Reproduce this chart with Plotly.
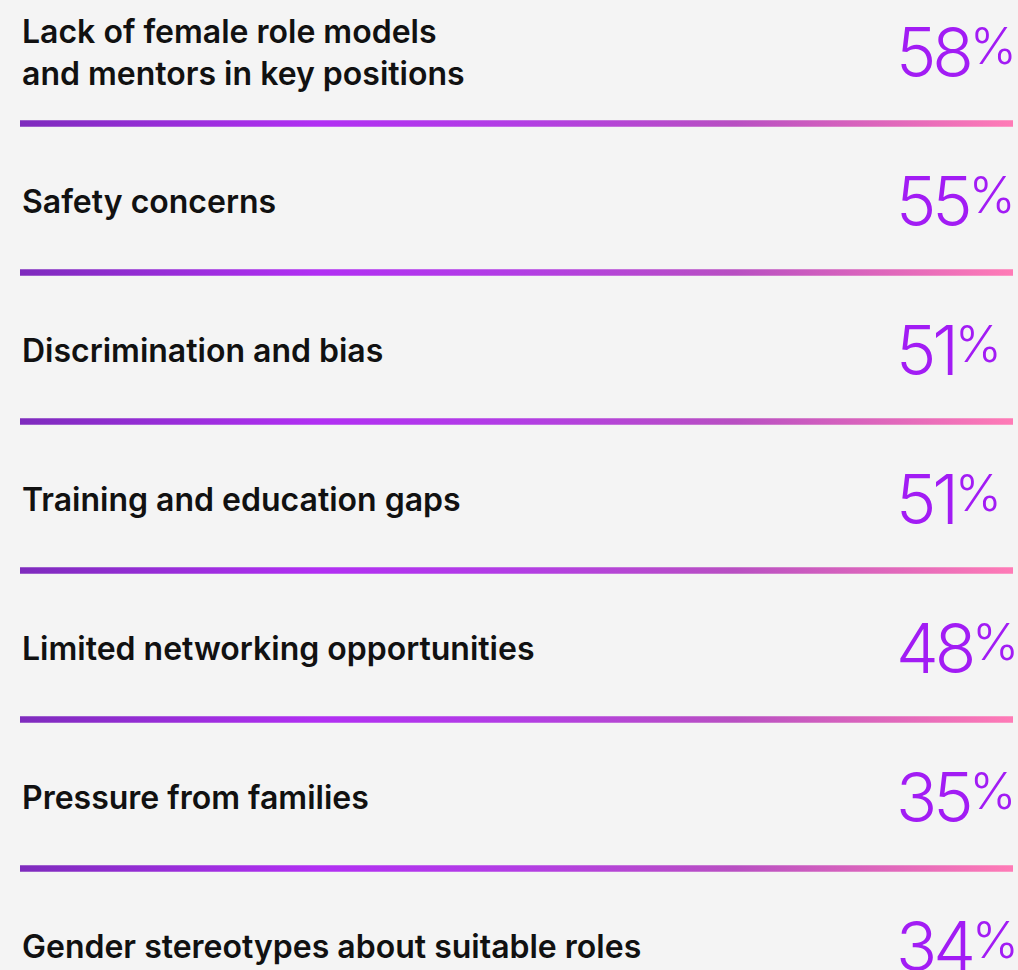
import plotly.graph_objects as go

# ---- data ----
categories = [
    "Lack of female role models<br>and mentors in key positions",
    "Safety concerns",
    "Discrimination and bias",
    "Training and education gaps",
    "Limited networking opportunities",
    "Pressure from families",
    "Gender stereotypes about suitable roles",
]
values = [58, 55, 51, 51, 48, 35, 34]

# ---- style ----
BG = "#f4f4f4"
NUM_COLOR = "#a21cf4"
LABEL_COLOR = "#111111"
grad = [[0.0, "#7e2bbd"], [0.3, "#b12ff3"], [0.5, "#b23de4"],
        [0.72, "#b84fc2"], [1.0, "#ff7bb6"]]

X0, X1 = 20, 1013          # horizontal extent of separators (px units of x axis)
LABEL_X = 20
NUM_X = 894
LINE_OFF = 0.48            # separator position relative to row index
LINE_H = 0.044             # separator thickness in row units

fig = go.Figure()

n = len(categories)
for i in range(n - 1):
    yc = i + LINE_OFF
    fig.add_trace(go.Scatter(
        x=[X0, X1, X1, X0, X0],
        y=[yc - LINE_H / 2, yc - LINE_H / 2, yc + LINE_H / 2, yc + LINE_H / 2, yc - LINE_H / 2],
        mode="lines", line=dict(width=0), fill="toself",
        fillgradient=dict(type="horizontal", colorscale=grad),
        hoverinfo="skip", showlegend=False,
    ))

annotations = []
for i, (cat, v) in enumerate(zip(categories, values)):
    annotations.append(dict(
        x=LABEL_X, y=i, xref="x", yref="y", text=cat, showarrow=False,
        xanchor="left", yanchor="middle", align="left",
        font=dict(family="Inter", size=32, color=LABEL_COLOR, weight=600),
    ))
    annotations.append(dict(
        x=NUM_X, y=i, xref="x", yref="y",
        text=(f"<span style='letter-spacing:-4px'>{v}</span>"
              f"<span style='font-size:50px;baseline-shift:13px;letter-spacing:0px'>%</span>"),
        showarrow=False, xanchor="left", yanchor="middle",
        font=dict(family="Inter", size=68, color=NUM_COLOR, weight=300),
    ))

fig.update_layout(
    width=1018, height=970,
    margin=dict(l=0, r=0, t=0, b=0),
    paper_bgcolor=BG, plot_bgcolor=BG,
    xaxis=dict(range=[0, 1018], visible=False, fixedrange=True),
    yaxis=dict(range=[(970 - 52) / 149, -52 / 149], visible=False, fixedrange=True),
    annotations=annotations,
    showlegend=False,
)

fig.write_html(
    "out.html",
    config={"displayModeBar": False},
    post_script="document.body.style.margin='0';document.body.style.overflow='hidden';"
                "document.body.style.background='#f4f4f4';",
)
